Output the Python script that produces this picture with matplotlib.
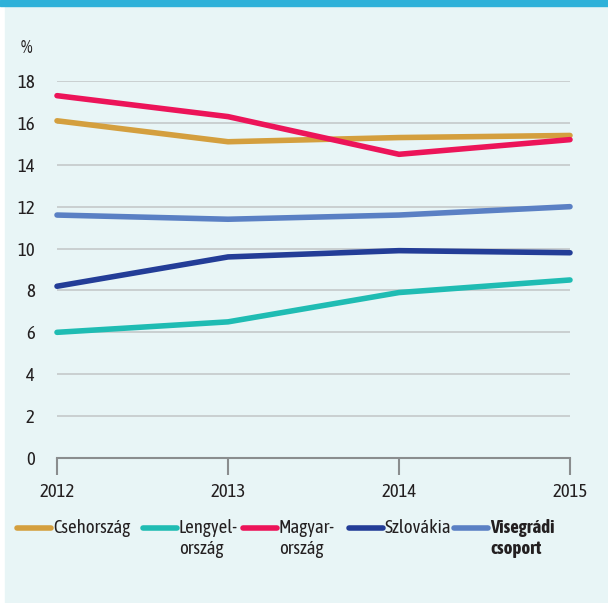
import matplotlib
matplotlib.use('Agg')
import matplotlib.pyplot as plt
from matplotlib.lines import Line2D
from matplotlib.patches import Rectangle

plt.rcParams['font.family'] = ['Asap Condensed', 'DejaVu Sans']

years = [2012, 2013, 2014, 2015]
cseh = [16.1, 15.1, 15.3, 15.4]
lengyel = [6.0, 6.5, 7.9, 8.5]
magyar = [17.3, 16.3, 14.5, 15.2]
szlovakia = [8.2, 9.6, 9.9, 9.8]
visegrad = [11.6, 11.4, 11.6, 12.0]

series = [
    ('Csehország', cseh, '#D49F3E'),
    ('Lengyel-\nország', lengyel, '#1FBCB3'),
    ('Magyar-\nország', magyar, '#EC1459'),
    ('Szlovákia', szlovakia, '#233D97'),
    ('Visegrádi\ncsoport', visegrad, '#5A80C4'),
]
yticks = [0, 2, 4, 6, 8, 10, 12, 14, 16, 18]

bg = '#E8F5F6'
W, H = 608, 603
fig = plt.figure(figsize=(W / 100, H / 100), dpi=100)
fig.patch.set_facecolor('white')
# background panel + top bar
fig.patches.append(Rectangle((5 / W, 0), 1, 1, transform=fig.transFigure, color=bg, zorder=-10))
fig.patches.append(Rectangle((0, 1 - 6 / H), 1, 6 / H, transform=fig.transFigure, color='#2EB1D9', zorder=-9))

ax = fig.add_axes([57 / W, (H - 458) / H, 513 / W, (458 - 81) / H])
ax.set_facecolor('none')
ax.set_xlim(2012, 2015)
ax.set_ylim(0, 18)

for y in yticks[1:]:
    ax.axhline(y, color='#C5C9CA', lw=1.2, zorder=1)

for name, vals, col in series:
    ax.plot(years, vals, color=col, lw=4, solid_capstyle='round', solid_joinstyle='round',
            clip_on=False, zorder=3)

for s in ['top', 'right', 'left']:
    ax.spines[s].set_visible(False)
ax.spines['bottom'].set_color('#8A8D8E')
ax.spines['bottom'].set_linewidth(1.5)
ax.set_xticks(years)
ax.set_xticklabels([str(y) for y in years], fontsize=13.5, color='#231F20')
ax.tick_params(axis='x', length=12, width=1.5, color='#8A8D8E', pad=6)
ax.set_yticks(yticks)
ax.set_yticklabels([str(y) for y in yticks], fontsize=13.5, color='#231F20')
ax.tick_params(axis='y', length=0, pad=16)
fig.text(21 / W, 1 - 48 / H, '%', fontsize=13.5, color='#231F20', va='center', ha='left')

# legend drawn by hand
hx = [17, 143, 243, 349, 454]
for (name, vals, col), x0 in zip(series, hx):
    yl = 1 - 528 / H
    fig.add_artist(Line2D([x0 / W, (x0 + 34) / W], [yl, yl], color=col, lw=4,
                          solid_capstyle='round', transform=fig.transFigure))
    fig.text((x0 + 36) / W, 1 - 519 / H, name, fontsize=13.5, color='#231F20', va='top', ha='left',
             linespacing=1.25, fontweight='bold' if name.startswith('Visegr') else 'normal')

fig.savefig('out.png', dpi=100, facecolor=fig.get_facecolor())
